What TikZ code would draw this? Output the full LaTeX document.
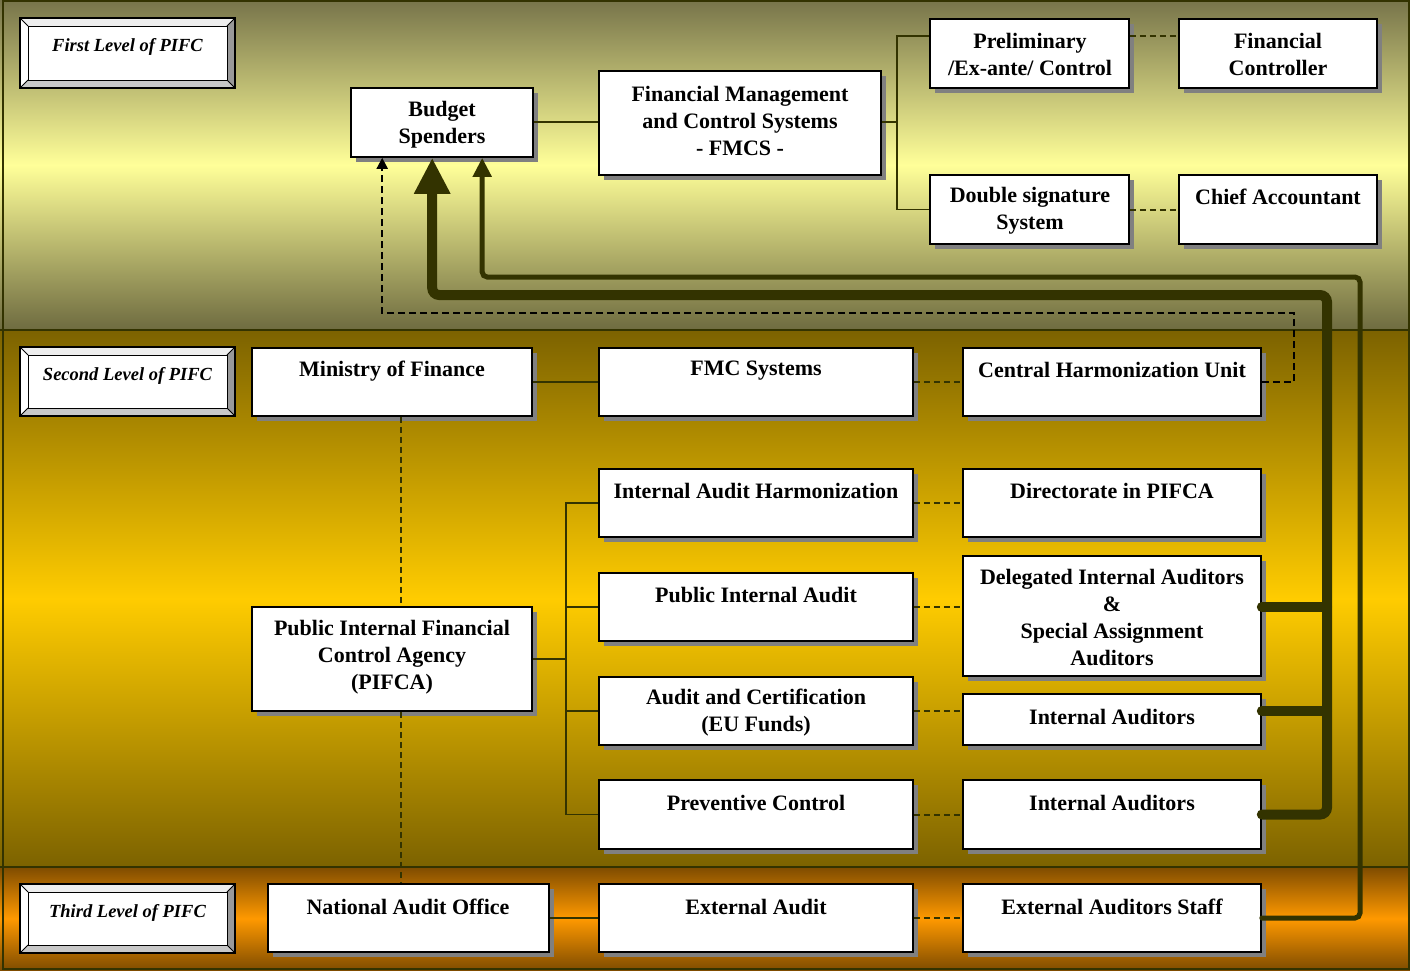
\documentclass[tikz,border=0pt]{standalone}
\usepackage{fontspec}
\setmainfont{Liberation Serif}
\usetikzlibrary{arrows.meta,shadows,calc}
\definecolor{ol}{HTML}{333300}
\definecolor{b1t}{HTML}{77744A}
\definecolor{b1m}{HTML}{FFFF99}
\definecolor{b1b}{HTML}{6E6B40}
\definecolor{b2e}{HTML}{7C6200}
\definecolor{b2m}{HTML}{FFCC00}
\definecolor{b3e}{HTML}{7F4C00}
\definecolor{b3m}{HTML}{FF9900}
\definecolor{shd}{HTML}{808080}
\definecolor{bvR}{HTML}{999999}
\definecolor{bvB}{HTML}{C8C8C8}
\definecolor{bvT}{HTML}{EEEEEE}
\tikzset{
  boxst/.style={rectangle, draw=black, line width=1.6pt, fill=white, inner sep=0pt,
    general shadow={fill=shd, draw=none, shadow xshift=4.5pt, shadow yshift=-4.5pt}},
  txt/.style={font=\fontsize{22}{27}\selectfont\bfseries, align=center, inner sep=0pt},
  lvtxt/.style={font=\fontsize{18.5}{22}\selectfont\bfseries\itshape, inner sep=0pt},
  thin/.style={draw=ol, line width=1.4pt},
  dsh/.style={draw=ol, line width=2pt, dash pattern=on 6pt off 4pt},
  bsh/.style={draw=black, line width=2pt, dash pattern=on 7pt off 4pt},
  thickln/.style={draw=ol, line width=10pt, line cap=round},
  thickarr/.style={draw=ol, line width=10pt, rounded corners=7pt, line cap=round},
  medarr/.style={draw=ol, line width=5pt, rounded corners=5pt, line cap=round},
}
\newcommand\mkbox[5]{\node[boxst, minimum width={#4-#2}, minimum height={#5-#3}] (#1) at ({(#2+#4)/2},{(#3+#5)/2}) {};}
\newcommand\bevel[6]{%
  \fill[bvT] (#2,#3) -- (#4,#3) -- (#4-8,#3+8) -- (#2+8,#3+8) -- cycle;
  \fill[white] (#2,#3) -- (#2+8,#3+8) -- (#2+8,#5-8) -- (#2,#5) -- cycle;
  \fill[bvR] (#4,#3) -- (#4,#5) -- (#4-8,#5-8) -- (#4-8,#3+8) -- cycle;
  \fill[bvB] (#2,#5) -- (#4,#5) -- (#4-8,#5-8) -- (#2+8,#5-8) -- cycle;
  \fill[white] (#2+8,#3+8) rectangle (#4-8,#5-8);
  \draw[black, line width=1pt] (#2+8,#3+8) rectangle (#4-8,#5-8);
  \draw[black, line width=0.8pt] (#2,#3) -- (#2+8,#3+8) (#4,#3) -- (#4-8,#3+8)
     (#2,#5) -- (#2+8,#5-8) (#4,#5) -- (#4-8,#5-8);
  \draw[black, line width=1.6pt] (#2,#3) rectangle (#4,#5);
  \node[lvtxt] (#1) at ({(#2+#4)/2},{(#3+#5)/2-6}) {#6};
}
\begin{document}
\begin{tikzpicture}[x=1pt,y=-1pt]
\useasboundingbox (0,0) rectangle (1410,970);
% backgrounds
\shade[top color=b1t, bottom color=b1b, middle color=b1m] (0,0) rectangle (1410,330);
\shade[top color=b2e, bottom color=b2e, middle color=b2m] (0,330) rectangle (1410,867);
\shade[top color=b3e, bottom color=b3e, middle color=b3m] (0,867) rectangle (1410,970);
\draw[ol, line width=1.5pt] (0,330) -- (1410,330) (0,867) -- (1410,867);
\draw[ol, line width=2pt] (3,1) rectangle (1409,969);

% level labels
\bevel{lv1}{20}{18}{235}{88}{First Level of PIFC}
\bevel{lv2}{20}{347}{235}{416}{Second Level of PIFC}
\bevel{lv3}{20}{884}{235}{953}{Third Level of PIFC}

% boxes
\mkbox{bs}{351}{88}{533}{157}
\mkbox{fmcs}{599}{71}{881}{175}
\mkbox{pre}{930}{19}{1129}{88}
\mkbox{fc}{1179}{19}{1377}{88}
\mkbox{ds}{930}{175}{1129}{244}
\mkbox{ca}{1179}{175}{1377}{244}
\mkbox{mof}{252}{348}{532}{416}
\mkbox{fmc}{599}{348}{913}{416}
\mkbox{chu}{963}{348}{1261}{416}
\mkbox{iah}{599}{469}{913}{537}
\mkbox{dir}{963}{469}{1261}{537}
\mkbox{pia}{599}{573}{913}{641}
\mkbox{del}{963}{556}{1261}{676}
\mkbox{pifca}{252}{607}{532}{711}
\mkbox{ac}{599}{677}{913}{745}
\mkbox{iaa}{963}{694}{1261}{745}
\mkbox{pc}{599}{780}{913}{849}
\mkbox{iab}{963}{780}{1261}{849}
\mkbox{nao}{268}{884}{549}{952}
\mkbox{ea}{599}{884}{913}{952}
\mkbox{eas}{963}{884}{1261}{952}

% texts
\node[txt] (bst) at (442,125) {Budget\\Spenders};
\node[txt] (fmcst) at (740,121) {Financial Management\\and Control Systems\\- FMCS -};
\node[txt] (pret) at (1030,54.5) {Preliminary\\/Ex-ante/ Control};
\node[txt] (fct) at (1278,54.5) {Financial\\Controller};
\node[txt] (dst) at (1030,210.5) {Double signature\\System};
\node[txt] (cat) at (1278,197) {Chief Accountant};
\node[txt] (moft) at (392,371) {Ministry of Finance};
\node[txt] (fmct) at (756,371) {FMC Systems};
\node[txt] (chut) at (1112,370) {Central Harmonization Unit};
\node[txt] (iaht) at (756,491) {Internal Audit Harmonization};
\node[txt] (dirt) at (1112,491) {Directorate in PIFCA};
\node[txt] (piat) at (756,595) {Public Internal Audit};
\node[txt] (delt) at (1112,617.5) {Delegated Internal Auditors\\\&\\Special Assignment\\Auditors};
\node[txt] (pifcat) at (392,657) {Public Internal Financial\\Control Agency\\(PIFCA)};
\node[txt] (act) at (756,712.5) {Audit and Certification\\(EU Funds)};
\node[txt] (iaat) at (1112,717) {Internal Auditors};
\node[txt] (pct) at (756,803) {Preventive Control};
\node[txt] (iabt) at (1112,803) {Internal Auditors};
\node[txt] (naot) at (408,907) {National Audit Office};
\node[txt] (eat) at (756,907) {External Audit};
\node[txt] (east) at (1112,907) {External Auditors Staff};

% junction coordinates
\coordinate (j1) at (897,36);
\coordinate (j2) at (566,0);
\coordinate (v1) at (401,0);
\coordinate (tt) at (1327,295);
\coordinate (mm) at (1360,277);
\coordinate (dd) at (1294,313);
\coordinate (bsa) at ([xshift=32pt]bs.south west);
\coordinate (bsb) at ([xshift=82pt]bs.south west);
\coordinate (bsc) at ([xshift=132pt]bs.south west);

% first level connectors
\draw[thin] (bs.east |- 0,122) -- (fmcs.west |- 0,122);
\draw[thin] (fmcs.east |- 0,122) -- (j1 |- 0,122);
\draw[thin] (pre.west |- j1) -- (j1) -- (j1 |- ds.west) -- (ds.west);
\draw[dsh] (pre.east |- j1) -- (fc.west |- j1);
\draw[dsh] (ds.east) -- (ca.west |- ds.east);

% second level
\draw[thin] (mof.east |- fmc.west) -- (fmc.west);
\draw[dsh] (fmc.east) -- (chu.west);
\draw[dsh] (mof.south -| v1) -- (pifca.north -| v1);
\draw[dsh] (pifca.south -| v1) -- (nao.north -| v1);
\draw[thin] (pifca.east) -- (pifca.east -| j2);
\draw[thin] (iah.west) -- (iah.west -| j2) -- (pc.west -| j2) -- (pc.west);
\draw[thin] (pia.west -| j2) -- (pia.west);
\draw[thin] (ac.west -| j2) -- (ac.west);
\draw[dsh] (iah.east) -- (dir.west);
\draw[dsh] (pia.east) -- (del.west |- pia.east);
\draw[dsh] (ac.east) -- (iaa.west |- ac.east);
\draw[dsh] (pc.east) -- (iab.west |- pc.east);

% third level
\draw[thin] (nao.east) -- (ea.west);
\draw[dsh] (ea.east) -- (eas.west);

% feedback arrows
\draw[bsh, -{Triangle[width=11pt,length=11pt]}] (chu.east |- fmc.east) -- (dd |- fmc.east) -- (dd) -- (bsa |- dd) -- (bsa);
\draw[thickln] (del.east |- pia.east) -- (tt |- pia.east);
\draw[thickln] (iaa.east |- ac.east) -- (tt |- ac.east);
\draw[thickarr, -{Triangle[width=34pt,length=36pt]}] (iab.east |- pc.east) -- (tt |- pc.east) -- (tt) -- (bsb |- tt) -- (bsb);
\draw[medarr, -{Triangle[width=18pt,length=19pt]}] (eas.east) -- (mm |- eas.east) -- (mm) -- (bsc |- mm) -- (bsc);
\end{tikzpicture}
\end{document}
